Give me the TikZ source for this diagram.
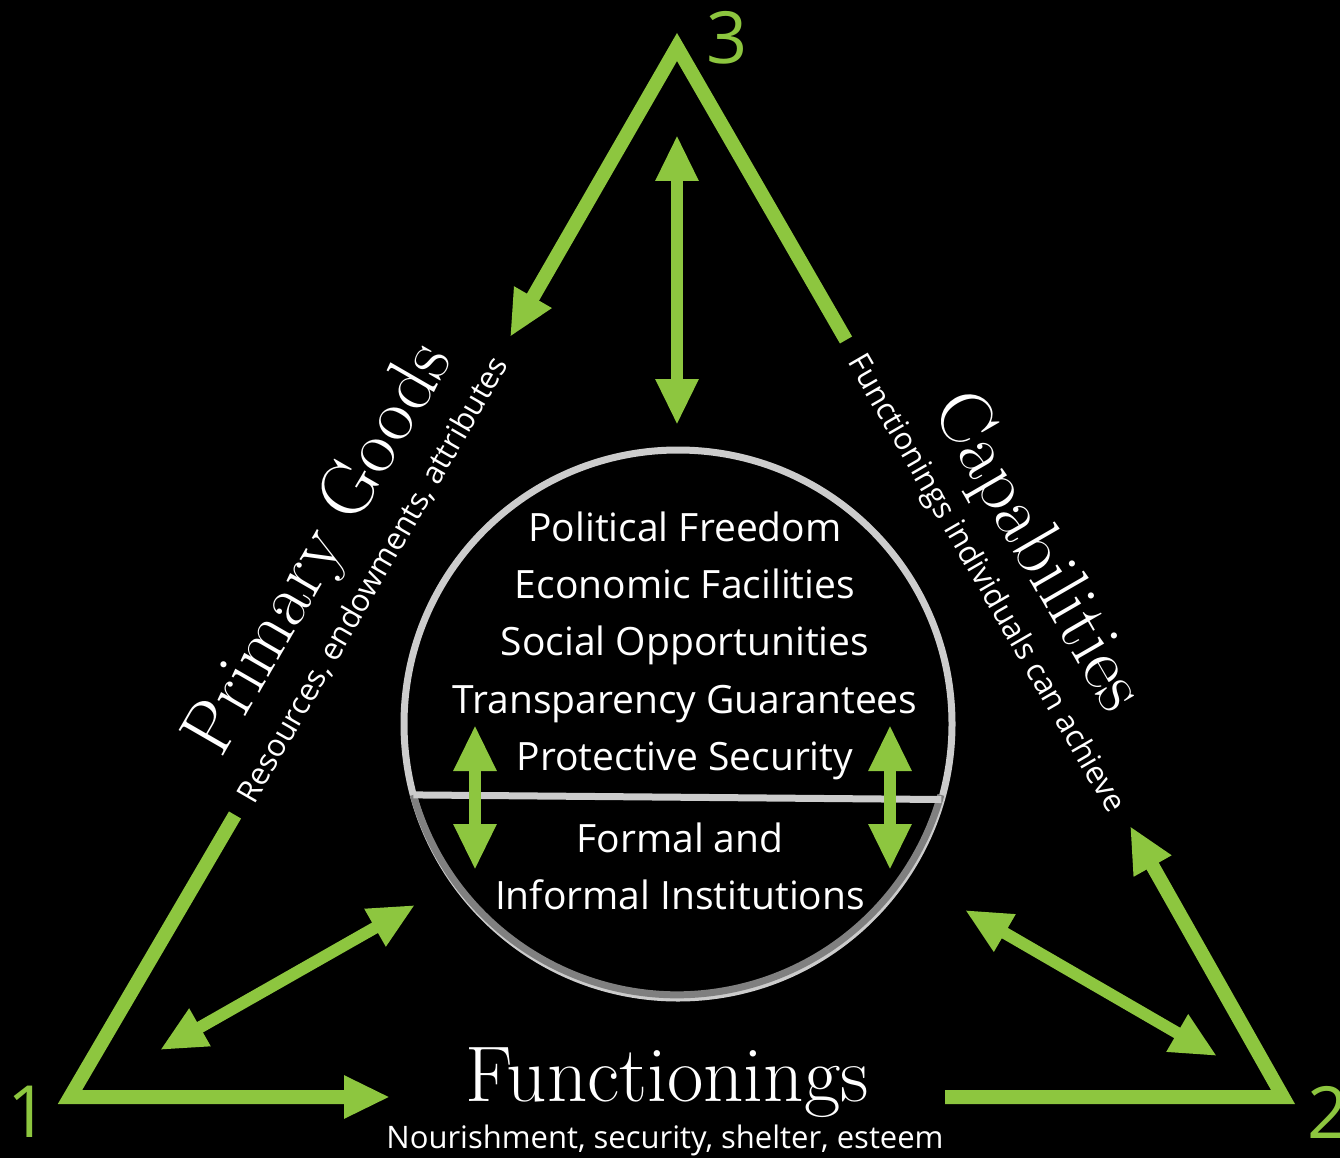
\documentclass[tikz,border=0pt]{standalone}
\usepackage{fontspec}
\setsansfont{Open Sans}
\usetikzlibrary{arrows.meta,positioning}

\definecolor{leaf}{RGB}{141,198,63}
\definecolor{rimlight}{RGB}{204,204,204}
\definecolor{rimdark}{RGB}{128,128,128}
\newcommand{\fsz}[1]{\fontsize{#1}{#1}\selectfont}

\begin{document}
\begin{tikzpicture}[x=1pt,y=-1pt,
  side/.style={draw=leaf,line width=14pt,line join=miter},
  tip/.style={-{Triangle[length=46pt,width=40pt]}},
  both/.style={draw=leaf,line width=12pt,{Triangle[length=46pt,width=40pt]}-{Triangle[length=46pt,width=40pt]}},
  item/.style={text=white,font=\sffamily\fsz{39},inner sep=0pt,text height=28pt,text depth=8pt},
  title/.style={text=white,font=\rmfamily\fsz{75},inner sep=0pt},
  note/.style={text=white,font=\sffamily\fsz{31},inner sep=0pt},
  corner/.style={text=leaf,font=\sffamily\fsz{72},inner sep=0pt},
  node distance=21pt]
\useasboundingbox (0,0) rectangle (1340,1158);
\fill[black] (0,0) rectangle (1340,1158);

% corners of the triangle and the ends of its open sides
\coordinate (one) at (70,1097);
\coordinate (two) at (1283,1097);
\coordinate (three) at (677,47);
\coordinate (leftend) at (235,815);
\coordinate (lefttip) at (510,337);
\coordinate (rightend) at (846,340);
\coordinate (righttip) at (1130,826);
\coordinate (baseend) at (945,1097);
\coordinate (basetip) at (390,1097);

\draw[side,tip] (leftend) -- (one) -- (basetip);
\draw[side,tip] (baseend) -- (two) -- (righttip);
\draw[side,tip] (rightend) -- (three) -- (lefttip);

% the circle
\node[circle,draw=rimlight,line width=7pt,minimum size=548pt,inner sep=0pt,outer sep=0pt] (hub) at (678,724) {};
\draw[rimdark,line width=7pt] (hub.195.7) arc[start angle=195.7,end angle=344.3,radius=274pt];
\draw[rimlight,line width=7pt] (hub.195.7) -- (hub.344.3);

\node[item] (freedom) at (685,531) {Political Freedom};
\node[item,below=of freedom] (economy) {Economic Facilities};
\node[item,below=of economy] (social) {Social Opportunities};
\node[item,below=of social] (transparency) {Transparency Guarantees};
\node[item,below=of transparency] (security) {Protective Security};
\node[item] (formal) at (680,842) {Formal and};
\node[item,below=of formal] (informal) {Informal Institutions};

% two-way arrows
\coordinate (topup) at (677,135);
\coordinate (topdown) at (677,425);
\coordinate (lowleftin) at (415,905);
\coordinate (lowleftout) at (160,1050);
\coordinate (lowrightin) at (965,910);
\coordinate (lowrightout) at (1217,1056);
\coordinate (innerlefttop) at (475,725);
\coordinate (innerleftbot) at (475,870);
\coordinate (innerrighttop) at (890,725);
\coordinate (innerrightbot) at (890,870);
\draw[both] (topup) -- (topdown);
\draw[both] (lowleftin) -- (lowleftout);
\draw[both] (lowrightin) -- (lowrightout);
\draw[both] (innerlefttop) -- (innerleftbot);
\draw[both] (innerrighttop) -- (innerrightbot);

% side labels
\node[title,rotate=60] (goods) at (321,550) {Primary Goods};
\node[note,rotate=60] (goodsnote) at (373,580) {Resources, endowments, attributes};
\node[title,rotate=-60] (capab) at (1036,553) {Capabilities};
\node[note,rotate=-60] (capabnote) at (985,584) {Functionings individuals can achieve};
\node[title,font=\rmfamily\fsz{79}] (func) at (667,1083) {Functionings};
\node[note] (funcnote) at (665,1140) {Nourishment, security, shelter, esteem};

\node[corner] (numone) at (28,1112) {1};
\node[corner] (numtwo) at (1328,1112) {2};
\node[corner] (numthree) at (727,38) {3};
\end{tikzpicture}
\end{document}
